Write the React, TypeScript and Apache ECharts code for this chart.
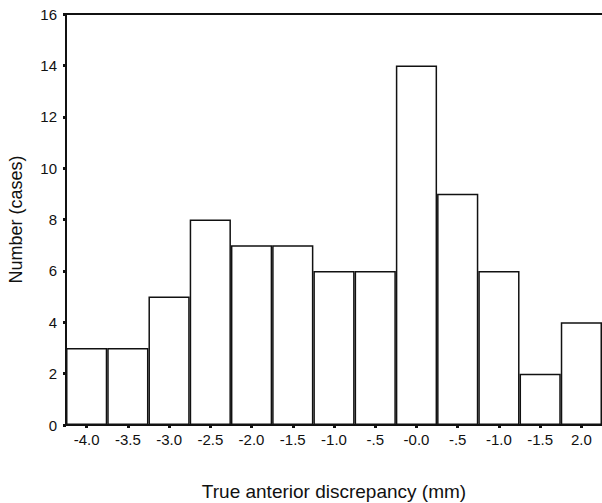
import React, { useEffect, useRef } from "react";
import * as echarts from "echarts";

const categories = ["-4.0", "-3.5", "-3.0", "-2.5", "-2.0", "-1.5", "-1.0", "-.5", "-0.0", "-.5", "-1.0", "-1.5", "2.0"];
const counts = [3, 3, 5, 8, 7, 7, 6, 6, 14, 9, 6, 2, 4];
const yTicks = { min: 0, max: 16, interval: 2 };
const xTitle = "True anterior discrepancy (mm)";
const yTitle = "Number (cases)";

const FONT = "Liberation Sans, Arial, sans-serif";

export default function App() {
  const ref = useRef<HTMLDivElement>(null);
  useEffect(() => {
    if (!ref.current) return;
    const chart = echarts.init(ref.current, null, { renderer: "svg" });
    chart.setOption({
      animation: false,
      backgroundColor: "#ffffff",
      grid: { left: 66, right: 0, top: 14, bottom: 78, containLabel: false, outerBoundsMode: "none" },
      xAxis: [
        {
          type: "category",
          data: categories,
          position: "bottom",
          name: xTitle,
          nameLocation: "middle",
          nameGap: 57,
          nameTextStyle: { fontFamily: FONT, fontSize: 19, color: "#111" },
          axisLine: { show: true, lineStyle: { color: "#111", width: 2 } },
          axisTick: { show: true, alignWithLabel: true, length: 3, lineStyle: { color: "#111", width: 3 } },
          axisLabel: { fontFamily: FONT, fontSize: 15, color: "#111", margin: 7, interval: 0 },
          splitLine: { show: false },
        },
        {
          type: "category",
          data: categories,
          position: "top",
          axisLine: { show: true, lineStyle: { color: "#111", width: 2 } },
          axisTick: { show: false },
          axisLabel: { show: false },
          splitLine: { show: false },
        },
      ],
      yAxis: {
        type: "value",
        min: yTicks.min,
        max: yTicks.max,
        interval: yTicks.interval,
        name: yTitle,
        nameLocation: "middle",
        nameGap: 41,
        nameRotate: 90,
        nameTextStyle: { fontFamily: FONT, fontSize: 18, color: "#111" },
        axisLine: { show: true, lineStyle: { color: "#111", width: 2 } },
        axisTick: { show: true, length: 3, lineStyle: { color: "#111", width: 3 } },
        axisLabel: { fontFamily: FONT, fontSize: 15, color: "#111", margin: 9 },
        splitLine: { show: false },
      },
      series: [
        {
          type: "bar",
          data: counts,
          barCategoryGap: "0%",
          itemStyle: { color: "#ffffff", borderColor: "#111", borderWidth: 1.5 },
        },
      ],
    });
    return () => chart.dispose();
  }, []);
  return <div ref={ref} style={{ width: 602, height: 503, position: "absolute", left: 0, top: 0 }} />;
}
